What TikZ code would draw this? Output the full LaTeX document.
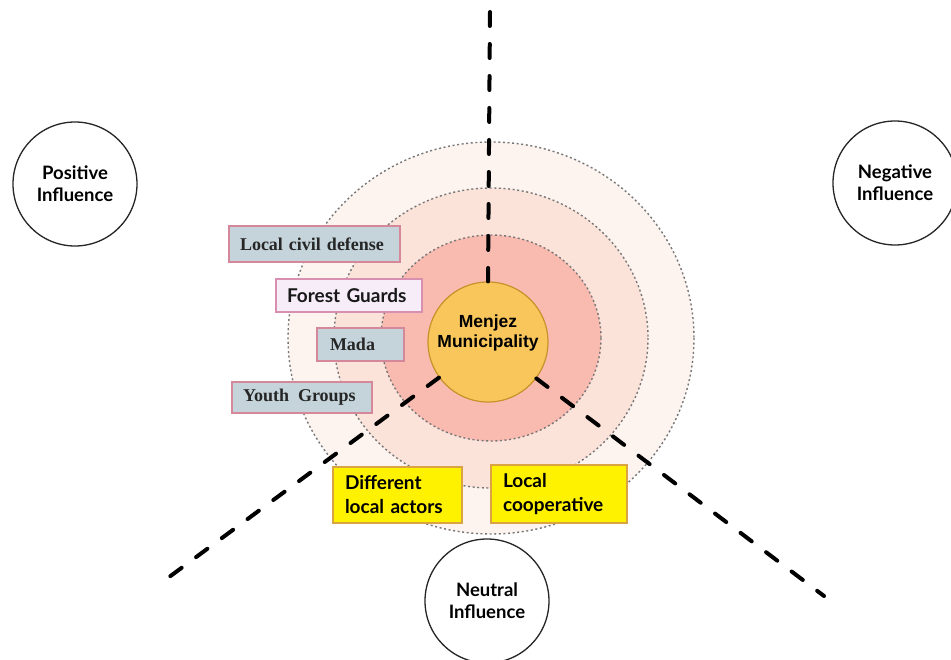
\documentclass[tikz,border=0pt]{standalone}
\usepackage{fontspec}
\setmainfont{Liberation Serif}
\newfontfamily\gillfont{Lato}
\newfontfamily\arialfont{Liberation Sans}
\definecolor{ringA}{HTML}{FDF4F0}
\definecolor{ringB}{HTML}{FCE3DA}
\definecolor{ringC}{HTML}{F9BAB0}
\definecolor{menjezfill}{HTML}{F9C65C}
\definecolor{menjezline}{HTML}{C8922A}
\definecolor{bluegray}{HTML}{C5D4DA}
\definecolor{pinkline}{HTML}{D4889A}
\definecolor{lavender}{HTML}{F6EDF9}
\definecolor{lavline}{HTML}{D990B0}
\definecolor{yellowline}{HTML}{D9A441}
\definecolor{dotgray}{HTML}{777777}
\tikzset{
  ringline/.style={draw=dotgray, line width=1.4pt, dash pattern=on 2pt off 2.6pt},
  axisline/.style={draw=black, line width=4pt, line cap=round, dash pattern=on 14pt off 18pt},
  influence/.style={circle, draw=black!85, line width=1.3pt, fill=white, minimum size=124pt, inner sep=0pt, align=center,
    font=\gillfont\bfseries\fontsize{18.5}{22}\selectfont},
  serifbox/.style={draw=pinkline, line width=1.3pt, fill=bluegray, inner sep=0pt, text=black!85, align=left,
    font=\bfseries\fontsize{18}{21}\selectfont},
  lavbox/.style={draw=lavline, line width=1.3pt, fill=lavender, inner sep=0pt, text=black!90, align=left,
    font=\gillfont\bfseries\fontsize{19}{21}\selectfont},
  yellowbox/.style={draw=yellowline, line width=1.2pt, fill=yellow, inner sep=0pt, align=left,
    font=\gillfont\bfseries\fontsize{19}{24}\selectfont},
}
\begin{document}
\begin{tikzpicture}[x=1pt,y=-1pt]
\useasboundingbox (0,0) rectangle (951,660);
\clip (0,0) rectangle (951,660);
\fill[white] (0,0) rectangle (951,660);
% rings
\fill[ringA] (491,338) ellipse [x radius=203, y radius=196];
\draw[ringline] (491,338) ellipse [x radius=203, y radius=196];
\fill[ringB] (491,338) ellipse [x radius=157, y radius=150];
\draw[ringline] (491,338) ellipse [x radius=157, y radius=150];
\fill[ringC] (491,338) ellipse [x radius=110, y radius=103];
\draw[ringline] (491,338) ellipse [x radius=110, y radius=103];
% centre
\node[circle, draw=menjezline, line width=1.2pt, fill=menjezfill, minimum size=120pt, inner sep=0pt, align=center,
  font=\arialfont\bfseries\fontsize{17.5}{20}\selectfont] (m) at (488,342) {Menjez\\Municipality\\[2pt]};
% axes
\coordinate (vtop) at (490,12);
\coordinate (llend) at (157,586);
\coordinate (lrend) at (824,596);
\draw[axisline] (vtop) -- (m.north);
\draw[axisline] (m.216) -- (llend);
\draw[axisline] (m.-37) -- (lrend);
% influence circles
\node[influence] (pos) at (75,184) {Positive\\Influence};
\node[influence] (neg) at (895,183) {Negative\\Influence};
\node[influence] (neu) at (487,601) {Neutral\\Influence};
% boxes
\node[serifbox, minimum width=171pt, minimum height=36pt, text width=149pt] (civil) at (314.5,244) {\mbox{Local civil defense}};
\node[lavbox, minimum width=146pt, minimum height=33pt, text width=124pt] (forest) at (349,295.5) {\mbox{Forest Guards}};
\node[serifbox, minimum width=87pt, minimum height=33pt, text width=61pt] (mada) at (360.5,344.5) {\mbox{Mada}};
\node[serifbox, minimum width=140pt, minimum height=31pt, text width=118pt] (youth) at (302,397.5) {\mbox{Youth\ \,Groups}};
\node[yellowbox, minimum width=129pt, minimum height=56pt, text width=105pt] (diff) at (397.5,495) {Different\\\mbox{local actors}};
\node[yellowbox, minimum width=136pt, minimum height=58pt, text width=112pt] (coop) at (559,494) {Local\\cooperative};
\end{tikzpicture}
\end{document}
